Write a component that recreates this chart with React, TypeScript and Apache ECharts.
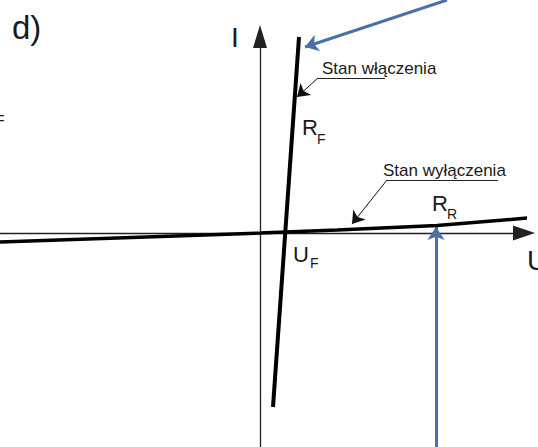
import { useEffect, useRef } from 'react';
import * as echarts from 'echarts';

const W = 538;
const H = 447;

// Axis extents (U horizontal, I vertical, arbitrary units)
const uMin = -26;
const uMax = 26.4;
const iMin = -21.4;
const iMax = 19.65;

// Forward (conducting) branch of the characteristic
const forwardU = [1.3, 3.9];
const forwardI = [-17.4, 19.6];

// Reverse (blocking) branch of the characteristic
const reverseU = [-26, 0, 7.7, 17.7, 26.8];
const reverseI = [-0.9, 0, 0.3, 0.75, 1.5];

// Leader of "Stan włączenia": underline end, knee, arrow tip
const leaderOnU = [12.5, 5.8, 3.7];
const leaderOnI = [15.5, 15.5, 13.6];
// Leader of "Stan wyłączenia": underline end, knee, arrow tip
const leaderOffU = [23.8, 12.7, 9.2];
const leaderOffI = [5.3, 5.3, 0.9];

// Blue pointers: tail, tip
const pointerTopU = [18.7, 4.5];
const pointerTopI = [23.3, 18.6];
const pointerBottomU = [17.6, 17.6];
const pointerBottomI = [-21.4, 0.6];

// Annotations
const noteTexts = ['Stan włączenia', 'Stan wyłączenia'];
const noteU = [6.2, 12.3];
const noteI = [16.5, 6.3];

// Symbols with subscripts: R_F, R_R, U_F
const symMain = ['R', 'R', 'U'];
const symMainU = [4.2, 17.2, 3.3];
const symMainI = [10.55, 2.95, -2.15];
const symSub = ['F', 'R', 'F'];
const symSubU = [5.7, 18.7, 5.0];
const symSubI = [9.43, 1.9, -3.0];

// Axis names
const axisNames = ['I', 'U'];
const axisNameU = [-2.9, 26.7];
const axisNameI = [19.6, -2.7];

const FONT = 'Liberation Sans, Arial, sans-serif';
const BLUE = '#4a71a6';

const zip = (us: number[], is: number[]) => us.map((u, k) => [u, is[k]]);

export default function App() {
  const ref = useRef<HTMLDivElement>(null);

  useEffect(() => {
    const el = ref.current!;
    const chart = echarts.init(el, undefined, { renderer: 'svg' });

    const axisCommon = {
      type: 'value',
      axisTick: { show: false },
      axisLabel: { show: false },
      splitLine: { show: false },
    };

    chart.setOption({
      animation: false,
      backgroundColor: '#fff',
      grid: { left: 0, right: 14, top: 36.5, bottom: 0, containLabel: false },
      xAxis: {
        ...axisCommon,
        min: uMin,
        max: uMax,
        axisLine: {
          onZero: true,
          symbol: ['none', 'triangle'],
          symbolSize: [15, 22],
          lineStyle: { color: '#222', width: 1.3 },
        },
      },
      yAxis: {
        ...axisCommon,
        min: iMin,
        max: iMax,
        axisLine: {
          onZero: true,
          symbol: ['none', 'triangle'],
          symbolSize: [14, 23],
          lineStyle: { color: '#222', width: 1.3 },
        },
      },
      series: [
        {
          type: 'line',
          name: 'forward',
          data: zip(forwardU, forwardI),
          showSymbol: false,
          clip: false,
          silent: true,
          lineStyle: { color: '#000', width: 4 },
        },
        {
          type: 'line',
          name: 'reverse',
          data: zip(reverseU, reverseI),
          showSymbol: false,
          clip: false,
          silent: true,
          lineStyle: { color: '#000', width: 3.5 },
        },
        {
          type: 'lines',
          name: 'underlines',
          coordinateSystem: 'cartesian2d',
          clip: false,
          silent: true,
          symbol: ['none', 'none'],
          lineStyle: { color: '#222', width: 1, opacity: 1 },
          data: [
            { coords: [[leaderOnU[0], leaderOnI[0]], [leaderOnU[1], leaderOnI[1]]] },
            { coords: [[leaderOffU[0], leaderOffI[0]], [leaderOffU[1], leaderOffI[1]]] },
          ],
        },
        {
          type: 'lines',
          name: 'leaders',
          coordinateSystem: 'cartesian2d',
          clip: false,
          silent: true,
          symbol: ['none', 'arrow'],
          symbolSize: [5, 12],
          lineStyle: { color: '#111', width: 1, opacity: 1 },
          data: [
            { coords: [[leaderOnU[1], leaderOnI[1]], [leaderOnU[2], leaderOnI[2]]] },
            { coords: [[leaderOffU[1], leaderOffI[1]], [leaderOffU[2], leaderOffI[2]]] },
          ],
        },
        {
          type: 'lines',
          name: 'pointers',
          coordinateSystem: 'cartesian2d',
          clip: false,
          silent: true,
          symbol: ['none', 'arrow'],
          symbolSize: [10, 13],
          lineStyle: { color: BLUE, width: 3, opacity: 1 },
          data: [
            { coords: zip(pointerTopU, pointerTopI) },
            { coords: zip(pointerBottomU, pointerBottomI) },
          ],
        },
      ],
    });

    const px = (u: number, i: number) =>
      chart.convertToPixel({ gridIndex: 0 }, [u, i]) as number[];

    const text = (
      s: string,
      p: number[],
      fontSize: number,
      extra: Record<string, unknown> = {}
    ) => ({
      type: 'text',
      x: p[0],
      y: p[1],
      silent: true,
      ...extra,
      style: {
        text: s,
        fontSize,
        fontFamily: FONT,
        fill: '#1a1a1a',
        align: 'left',
        verticalAlign: 'middle',
        textAlign: 'left',
        textVerticalAlign: 'middle',
      },
    });

    const graphic: unknown[] = [];
    noteTexts.forEach((s, k) => graphic.push(text(s, px(noteU[k], noteI[k]), 17)));
    symMain.forEach((s, k) => {
      graphic.push(text(s, px(symMainU[k], symMainI[k]), 22));
      graphic.push(text(symSub[k], px(symSubU[k], symSubI[k]), 14));
    });
    axisNames.forEach((s, k) => graphic.push(text(s, px(axisNameU[k], axisNameI[k]), 28)));
    // Panel letter and the clipped subscript from the neighbouring panel
    graphic.push(text('d)', [12, 27], 33));
    graphic.push(text('F', [-4, 120], 14));

    chart.setOption({ graphic });

    return () => chart.dispose();
  }, []);

  return (
    <div
      ref={ref}
      style={{ position: 'absolute', left: 0, top: 0, width: W, height: H, background: '#fff' }}
    />
  );
}
